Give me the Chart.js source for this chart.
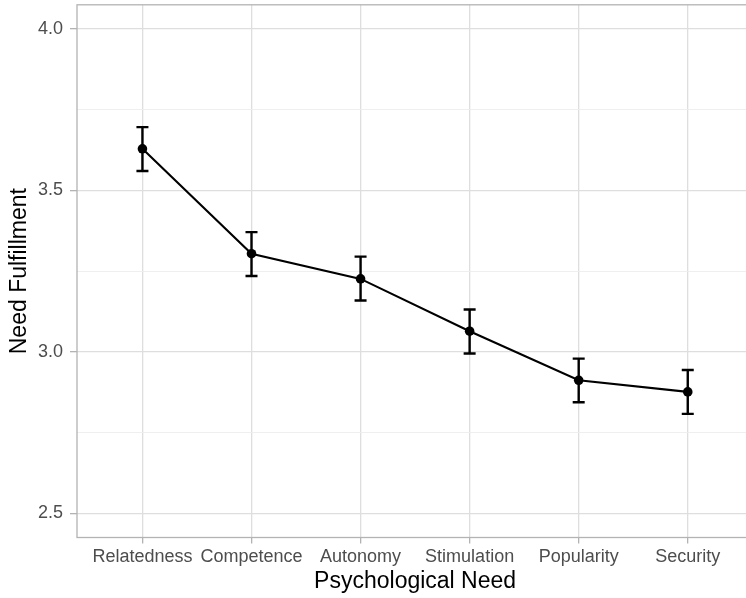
<!DOCTYPE html>
<html>
<head>
<meta charset="utf-8">
<script src="https://cdn.jsdelivr.net/npm/chart.js@4"></script>
<style>
  html, body { margin: 0; padding: 0; background: #fff; overflow: hidden; }
  #wrap { width: 758px; height: 598px; position: relative; }
</style>
</head>
<body>
<div id="wrap"><canvas id="chart"></canvas></div>
<script>
Chart.defaults.font.family = "'Liberation Sans', Arial, Helvetica, sans-serif";

const needs = ['Relatedness', 'Competence', 'Autonomy', 'Stimulation', 'Popularity', 'Security'];
const meanFulfillment = [3.629, 3.304, 3.226, 3.064, 2.912, 2.876];
const ciLower = [3.560, 3.235, 3.159, 2.995, 2.844, 2.808];
const ciUpper = [3.696, 3.371, 3.295, 3.131, 2.979, 2.944];
const yMajorTicks = [2.5, 3.0, 3.5, 4.0];
const yMinorTicks = [2.75, 3.25, 3.75];

const isMajor = v => yMajorTicks.includes(v);

// error bars + panel border (theme_light style)
const panelPlugin = {
  id: 'panel',
  beforeDatasetsDraw(chart) {
    const {ctx, scales: {x, y}} = chart;
    ctx.save();
    ctx.strokeStyle = '#000';
    ctx.lineWidth = 2.4;
    needs.forEach((n, i) => {
      const px = x.getPixelForValue(i + 1);
      const top = y.getPixelForValue(ciUpper[i]);
      const bot = y.getPixelForValue(ciLower[i]);
      ctx.beginPath();
      ctx.moveTo(px, top); ctx.lineTo(px, bot);
      ctx.moveTo(px - 6, top); ctx.lineTo(px + 6, top);
      ctx.moveTo(px - 6, bot); ctx.lineTo(px + 6, bot);
      ctx.stroke();
    });
    ctx.restore();
  },
  afterDraw(chart) {
    const {ctx, chartArea: a} = chart;
    ctx.save();
    ctx.strokeStyle = '#b3b3b3';
    ctx.lineWidth = 1.3;
    ctx.strokeRect(a.left, a.top, a.right - a.left, a.bottom - a.top);
    ctx.restore();
  }
};

new Chart('chart', {
  type: 'line',
  data: {
    datasets: [{
      data: needs.map((n, i) => ({x: i + 1, y: meanFulfillment[i]})),
      borderColor: '#000',
      borderWidth: 2.1,
      pointRadius: 4.8,
      pointBackgroundColor: '#000',
      pointBorderWidth: 0,
      tension: 0
    }]
  },
  options: {
    responsive: true,
    maintainAspectRatio: false,
    animation: false,
    layout: { padding: { top: 3, right: 2, left: 0, bottom: 0 } },
    plugins: { legend: { display: false }, tooltip: { enabled: false } },
    scales: {
      x: {
        type: 'linear',
        min: 0.4,
        max: 6.6,
        afterBuildTicks: axis => { axis.ticks = needs.map((n, i) => ({value: i + 1})); },
        afterFit: scale => {
          scale.height = 60.5;
          scale.paddingLeft = 0;
          scale.paddingRight = 0;
        },
        border: { display: false },
        grid: { color: '#dedede', lineWidth: 1.3, tickColor: '#b3b3b3', tickLength: 6, tickWidth: 1.3 },
        ticks: {
          autoSkip: false,
          maxRotation: 0,
          padding: 3,
          color: '#4d4d4d',
          font: { size: 18 },
          callback: v => needs[v - 1]
        },
        title: {
          display: true,
          text: 'Psychological Need',
          color: '#000',
          font: { size: 23, lineHeight: 1 },
          padding: { top: 0, bottom: 5 }
        }
      },
      y: {
        min: 2.425,
        max: 4.075,
        afterBuildTicks: axis => {
          axis.ticks = yMajorTicks.concat(yMinorTicks).sort().map(v => ({value: v}));
        },
        afterFit: scale => {
          scale.width = 77;
          scale.paddingTop = 0;
          scale.paddingBottom = 0;
        },
        border: { display: false },
        grid: {
          color: c => isMajor(c.tick.value) ? '#dedede' : '#ededed',
          lineWidth: c => isMajor(c.tick.value) ? 1.3 : 0.9,
          tickColor: c => isMajor(c.tick.value) ? '#b3b3b3' : 'rgba(0,0,0,0)',
          tickLength: 7,
          tickWidth: 1.3
        },
        ticks: {
          padding: 7,
          color: '#4d4d4d',
          font: { size: 18 },
          callback: v => isMajor(v) ? v.toFixed(1) : ''
        },
        title: {
          display: true,
          text: 'Need Fulfillment',
          color: '#000',
          font: { size: 23, lineHeight: 1 },
          padding: { top: 8, bottom: 0 }
        }
      }
    }
  },
  plugins: [panelPlugin]
});
</script>
</body>
</html>
